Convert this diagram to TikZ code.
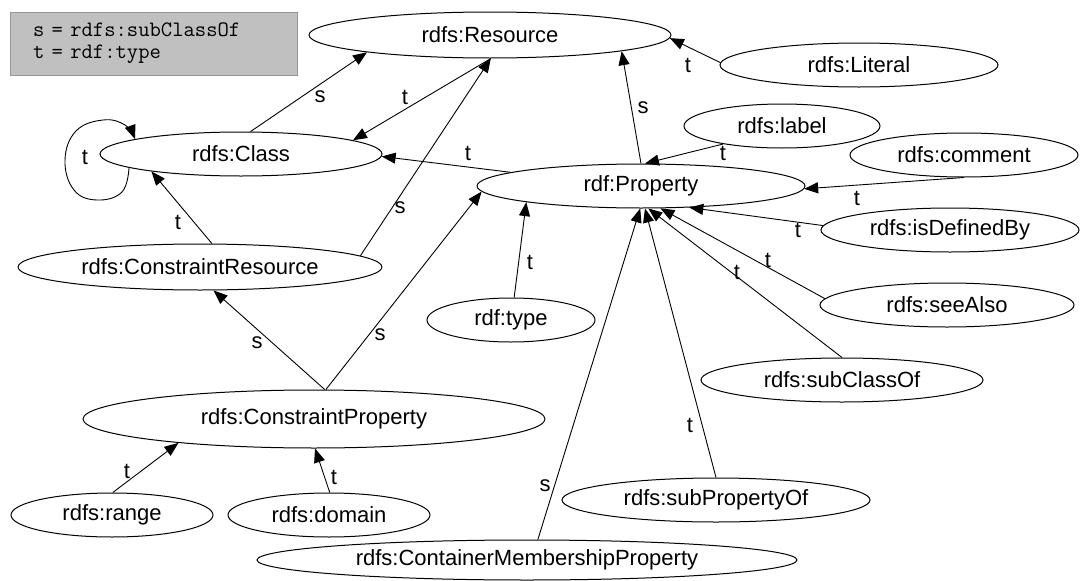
\documentclass[tikz,border=0pt]{standalone}
\usepackage{fontspec}
\setmainfont{Liberation Sans}
\usetikzlibrary{shapes.geometric,arrows.meta}
\definecolor{legfill}{RGB}{192,192,192}
\definecolor{legdraw}{RGB}{150,150,150}
\begin{document}
\begin{tikzpicture}[x=1pt,y=-1pt,
  cls/.style={ellipse, draw=black, line width=1pt, fill=white, inner sep=0pt, font=\fontsize{22}{24}\selectfont},
  edge/.style={draw=black, line width=0.9pt, -{Triangle[length=14pt,width=11pt]}},
  lbl/.style={inner sep=0pt, font=\fontsize{22}{24}\selectfont}]
\useasboundingbox (0,0) rectangle (1080,581);
\fill[white] (0,0) rectangle (1080,581);
% legend
\node[draw=legdraw, fill=legfill, line width=1pt, minimum width=287pt, minimum height=63pt,
  text width=241pt, align=left, inner sep=0pt, font=\ttfamily\fontsize{22}{22}\selectfont]
  (legend) at (153.5,43.5) {s = rdfs:subClassOf\\t = rdf:type};
% nodes
\node[cls, minimum width=362pt, minimum height=46pt] (res) at (490,35) {rdfs:Resource};
\node[cls, minimum width=278pt, minimum height=44pt] (lit) at (859,65) {rdfs:Literal};
\node[cls, minimum width=282pt, minimum height=44pt] (cls) at (241,154) {rdfs:Class};
\node[cls, minimum width=328pt, minimum height=44pt] (prop) at (641,186) {rdf:Property};
\node[cls, minimum width=196pt, minimum height=44pt] (label) at (782,126) {rdfs:label};
\node[cls, minimum width=228pt, minimum height=44pt] (comment) at (964,155) {rdfs:comment};
\node[cls, minimum width=258pt, minimum height=44pt] (isdef) at (950,230) {rdfs:isDefinedBy};
\node[cls, minimum width=254pt, minimum height=44pt] (see) at (947,305) {rdfs:seeAlso};
\node[cls, minimum width=282pt, minimum height=44pt] (subc) at (842,380) {rdfs:subClassOf};
\node[cls, minimum width=364pt, minimum height=46pt] (cr) at (200,267) {rdfs:ConstraintResource};
\node[cls, minimum width=168pt, minimum height=44pt] (type) at (511,320) {rdf:type};
\node[cls, minimum width=462pt, minimum height=58pt] (cp) at (314,419) {rdfs:ConstraintProperty};
\node[cls, minimum width=202pt, minimum height=44pt] (range) at (112,515) {rdfs:range};
\node[cls, minimum width=202pt, minimum height=44pt] (domain) at (329,515) {rdfs:domain};
\node[cls, minimum width=308pt, minimum height=44pt] (subp) at (716,500) {rdfs:subPropertyOf};
\node[cls, minimum width=540pt, minimum height=40pt] (cmp) at (527,560) {rdfs:ContainerMembershipProperty};
% edges
\draw[edge] (cls.67) -- (res.-172);
\draw[edge] (cr.63) -- (cls.-169);
\draw[edge] plot[smooth, tension=0.7] coordinates {(cls.-173) (122,192) (97,200) (74,190) (65,160) (76,131) (103,120) (125,125) (cls.172)};
\draw[edge] (res.-88) -- (cls.7);
\draw[edge] (prop.174) -- (cls.-1);
\draw[edge] (prop.90) -- (res.-7.5);
\draw[edge] (lit.179) -- (res.-1);
\draw[edge] (label.-163) -- (prop.80);
\draw[edge] (comment.-90) -- (prop.-1);
\draw[edge] (isdef.178) -- (prop.-24);
\draw[edge] (see.177) -- (prop.-49);
\draw[edge] (subc.90) -- (prop.-72);
\draw[edge] (subp.90) -- (prop.-80);
\draw[edge] (cmp.62) -- (prop.-92);
\draw[edge] (type.82) -- (prop.-172.5);
\draw[edge] (cr.4.5) -- (res.-88);
\draw[edge] (cp.70) -- (cr.-60);
\draw[edge] (cp.68) -- (prop.-178.5);
\draw[edge] (range.88) -- (cp.-170);
\draw[edge] (domain.88) -- (cp.-88);
% labels
\node[lbl] (l1) at (320,97) {s};
\node[lbl] (l2) at (178,222) {t};
\node[lbl] (l3) at (85,157) {t};
\node[lbl] (l4) at (405,97) {t};
\node[lbl] (l5) at (468,153) {t};
\node[lbl] (l6) at (643,108) {s};
\node[lbl] (l7) at (688,65) {t};
\node[lbl] (l8) at (723,153) {t};
\node[lbl] (l9) at (857,198) {t};
\node[lbl] (l10) at (798,230) {t};
\node[lbl] (l11) at (768,260) {t};
\node[lbl] (l12) at (737,272) {t};
\node[lbl] (l13) at (690,425) {t};
\node[lbl] (l14) at (545,486) {s};
\node[lbl] (l15) at (530,262) {t};
\node[lbl] (l16) at (400,208) {s};
\node[lbl] (l17) at (257,343) {s};
\node[lbl] (l18) at (380,335) {s};
\node[lbl] (l19) at (127,471) {t};
\node[lbl] (l20) at (334,477) {t};
\end{tikzpicture}
\end{document}
